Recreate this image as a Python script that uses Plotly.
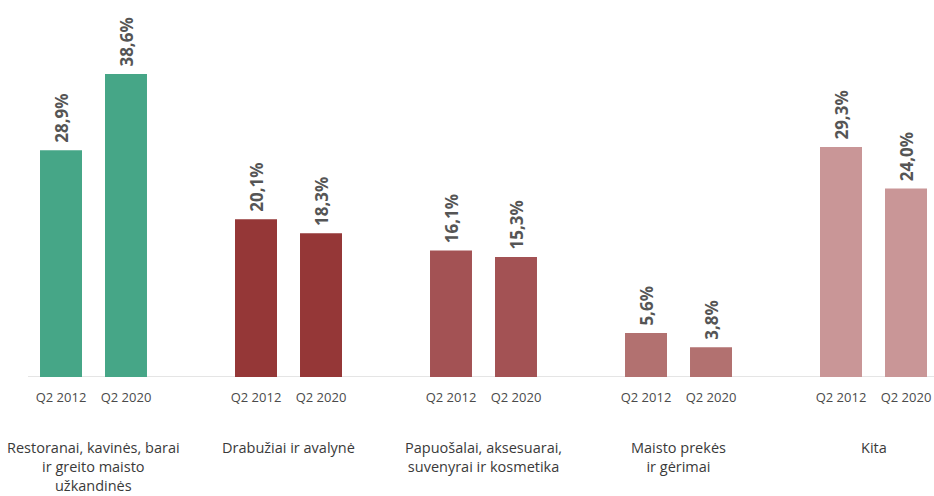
import plotly.graph_objects as go

categories = [
    "Restoranai, kavinės, barai<br>ir greito maisto<br>užkandinės",
    "Drabužiai ir avalynė",
    "Papuošalai, aksesuarai,<br>suvenyrai ir kosmetika",
    "Maisto prekės<br>ir gėrimai",
    "Kita",
]
periods = ["Q2 2012", "Q2 2020"]
values_2012 = [28.9, 20.1, 16.1, 5.6, 29.3]
values_2020 = [38.6, 18.3, 15.3, 3.8, 24.0]
colors = ["#46A687", "#953737", "#A35254", "#B27170", "#C99697"]

xs, ys, cols, texts, ticks = [], [], [], [], []
for i, (a, b) in enumerate(zip(values_2012, values_2020)):
    for j, v in enumerate((a, b)):
        xs.append(3 * i + j)
        ys.append(v)
        cols.append(colors[i])
        texts.append("\u00a0" + f"{v:.1f}".replace(".", ",") + "%")
        ticks.append(periods[j])

W, H = 934, 496
L, B = 28, 119
x0px = 61  # pixel of first bar centre inside figure
unit = 65

fig = go.Figure(go.Bar(
    x=xs, y=ys, width=0.646,
    marker=dict(color=cols, line=dict(width=0)),
    text=texts, textposition="outside", textangle=-90,
    constraintext="none", cliponaxis=False,
    textfont=dict(family="Open Sans", size=17, color="#555555", weight="bold"),
    hoverinfo="skip",
))

for i, c in enumerate(categories):
    fig.add_annotation(
        x=3 * i + 0.5, y=0, xref="x", yref="y", text=c, showarrow=False,
        yanchor="top", yshift=-59, align="center",
        font=dict(family="Open Sans", size=14.5, color="#3a3a3a"),
    )

fig.update_layout(
    width=W, height=H, margin=dict(l=L, r=0, t=0, b=B, autoexpand=False),
    paper_bgcolor="white", plot_bgcolor="white", showlegend=False,
    xaxis=dict(range=[(L - x0px) / unit, (W - x0px) / unit], tickvals=xs, ticktext=ticks,
               showgrid=False, zeroline=False, showline=False, automargin=False,
               ticks="outside", ticklen=8, tickcolor="rgba(0,0,0,0)",
               tickfont=dict(family="Open Sans", size=13, color="#4a4a4a")),
    yaxis=dict(range=[0, (H - B) / 7.85], visible=False, showgrid=False, zeroline=False),
    shapes=[dict(type="line", xref="paper", yref="y", x0=0, x1=1, y0=0, y1=0,
                 line=dict(color="#dddddd", width=1.5), layer="below")],
)

fig.write_html(
    "out.html",
    config={"displayModeBar": False},
    post_script="document.body.style.margin='0';document.body.style.overflow='hidden';",
)
